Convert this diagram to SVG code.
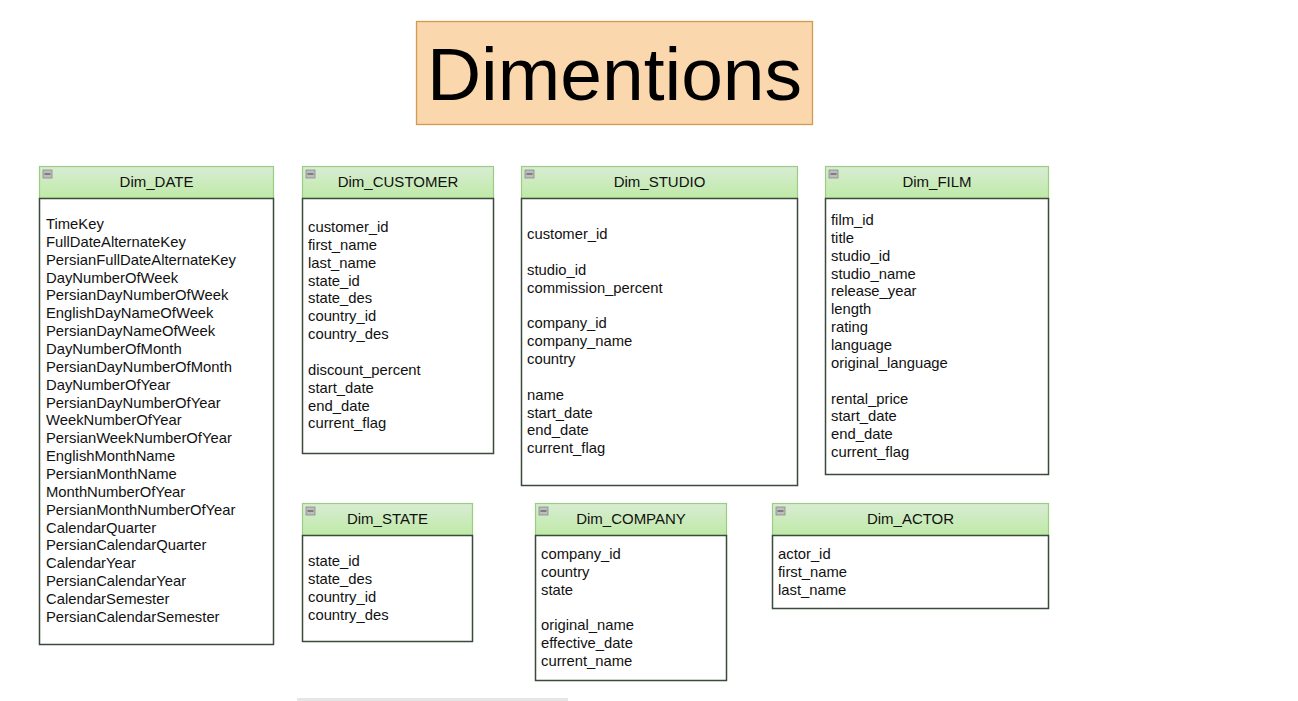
<svg xmlns="http://www.w3.org/2000/svg" width="1298" height="701" viewBox="0 0 1298 701">
<style>
.hdr{fill:url(#g);stroke:#9ccc84;stroke-width:1.2}
.body{fill:#fff;stroke:#3b4a3b;stroke-width:1.5}
.ht{font-family:"Liberation Sans",Arial,sans-serif;font-size:15px;fill:#111;text-anchor:middle}
.rt{font-family:"Liberation Sans",Arial,sans-serif;font-size:14.8px;fill:#111}
.ico{fill:#bdbdbd;stroke:#8a8a8a;stroke-width:0.8}
</style>
<defs>
<linearGradient id="g" x1="0" y1="0" x2="0" y2="1">
<stop offset="0" stop-color="#d8ecd4"/>
<stop offset="1" stop-color="#bfeaa6"/>
</linearGradient>
<g id="minus"><rect class="ico" x="0" y="0" width="9" height="8"/><line x1="1.5" y1="4" x2="7.5" y2="4" stroke="#555" stroke-width="1.2"/></g>
</defs>
<rect width="1298" height="701" fill="#fff"/>

<g id="title">
<rect x="416.5" y="21.5" width="396" height="103" fill="#fad7ac" stroke="#d39a4f" stroke-width="1.3"/>
<text x="614.5" y="100" font-family="Liberation Sans,Arial,sans-serif" font-size="75" text-anchor="middle" fill="#000">Dimentions</text>
</g>

<g id="connectors"></g>

<g id="dim_date">
<rect class="hdr" x="39.5" y="166.5" width="234" height="32"/>
<rect class="body" x="39.5" y="198.5" width="234" height="446"/>
<use href="#minus" x="43" y="170"/>
<text class="ht" x="156.5" y="187">Dim_DATE</text>
<text class="rt" x="46" y="229">
<tspan x="46">TimeKey</tspan>
<tspan x="46" dy="17.86">FullDateAlternateKey</tspan>
<tspan x="46" dy="17.86">PersianFullDateAlternateKey</tspan>
<tspan x="46" dy="17.86">DayNumberOfWeek</tspan>
<tspan x="46" dy="17.86">PersianDayNumberOfWeek</tspan>
<tspan x="46" dy="17.86">EnglishDayNameOfWeek</tspan>
<tspan x="46" dy="17.86">PersianDayNameOfWeek</tspan>
<tspan x="46" dy="17.86">DayNumberOfMonth</tspan>
<tspan x="46" dy="17.86">PersianDayNumberOfMonth</tspan>
<tspan x="46" dy="17.86">DayNumberOfYear</tspan>
<tspan x="46" dy="17.86">PersianDayNumberOfYear</tspan>
<tspan x="46" dy="17.86">WeekNumberOfYear</tspan>
<tspan x="46" dy="17.86">PersianWeekNumberOfYear</tspan>
<tspan x="46" dy="17.86">EnglishMonthName</tspan>
<tspan x="46" dy="17.86">PersianMonthName</tspan>
<tspan x="46" dy="17.86">MonthNumberOfYear</tspan>
<tspan x="46" dy="17.86">PersianMonthNumberOfYear</tspan>
<tspan x="46" dy="17.86">CalendarQuarter</tspan>
<tspan x="46" dy="17.86">PersianCalendarQuarter</tspan>
<tspan x="46" dy="17.86">CalendarYear</tspan>
<tspan x="46" dy="17.86">PersianCalendarYear</tspan>
<tspan x="46" dy="17.86">CalendarSemester</tspan>
<tspan x="46" dy="17.86">PersianCalendarSemester</tspan>
</text>
</g>

<g id="dim_customer">
<rect class="hdr" x="302.5" y="166.5" width="191" height="32"/>
<rect class="body" x="302.5" y="198.5" width="191" height="255"/>
<use href="#minus" x="306" y="170"/>
<text class="ht" x="398" y="187">Dim_CUSTOMER</text>
<text class="rt" x="308" y="232">
<tspan x="308">customer_id</tspan>
<tspan x="308" dy="17.86">first_name</tspan>
<tspan x="308" dy="17.86">last_name</tspan>
<tspan x="308" dy="17.86">state_id</tspan>
<tspan x="308" dy="17.86">state_des</tspan>
<tspan x="308" dy="17.86">country_id</tspan>
<tspan x="308" dy="17.86">country_des</tspan>
<tspan x="308" dy="35.72">discount_percent</tspan>
<tspan x="308" dy="17.86">start_date</tspan>
<tspan x="308" dy="17.86">end_date</tspan>
<tspan x="308" dy="17.86">current_flag</tspan>
</text>
</g>

<g id="dim_studio">
<rect class="hdr" x="521.5" y="166.5" width="276" height="32"/>
<rect class="body" x="521.5" y="198.5" width="276" height="287"/>
<use href="#minus" x="525" y="170"/>
<text class="ht" x="659.5" y="187">Dim_STUDIO</text>
<text class="rt" x="527" y="239">
<tspan x="527">customer_id</tspan>
<tspan x="527" dy="35.72">studio_id</tspan>
<tspan x="527" dy="17.86">commission_percent</tspan>
<tspan x="527" dy="35.72">company_id</tspan>
<tspan x="527" dy="17.86">company_name</tspan>
<tspan x="527" dy="17.86">country</tspan>
<tspan x="527" dy="35.72">name</tspan>
<tspan x="527" dy="17.86">start_date</tspan>
<tspan x="527" dy="17.86">end_date</tspan>
<tspan x="527" dy="17.86">current_flag</tspan>
</text>
</g>

<g id="dim_film">
<rect class="hdr" x="825.5" y="166.5" width="223" height="32"/>
<rect class="body" x="825.5" y="198.5" width="223" height="276"/>
<use href="#minus" x="829" y="170"/>
<text class="ht" x="937" y="187">Dim_FILM</text>
<text class="rt" x="831" y="225">
<tspan x="831">film_id</tspan>
<tspan x="831" dy="17.86">title</tspan>
<tspan x="831" dy="17.86">studio_id</tspan>
<tspan x="831" dy="17.86">studio_name</tspan>
<tspan x="831" dy="17.86">release_year</tspan>
<tspan x="831" dy="17.86">length</tspan>
<tspan x="831" dy="17.86">rating</tspan>
<tspan x="831" dy="17.86">language</tspan>
<tspan x="831" dy="17.86">original_language</tspan>
<tspan x="831" dy="35.72">rental_price</tspan>
<tspan x="831" dy="17.86">start_date</tspan>
<tspan x="831" dy="17.86">end_date</tspan>
<tspan x="831" dy="17.86">current_flag</tspan>
</text>
</g>

<g id="dim_state">
<rect class="hdr" x="302.5" y="503.5" width="170" height="32"/>
<rect class="body" x="302.5" y="535.5" width="170" height="106"/>
<use href="#minus" x="306" y="507"/>
<text class="ht" x="387.5" y="524">Dim_STATE</text>
<text class="rt" x="308" y="566">
<tspan x="308">state_id</tspan>
<tspan x="308" dy="17.86">state_des</tspan>
<tspan x="308" dy="17.86">country_id</tspan>
<tspan x="308" dy="17.86">country_des</tspan>
</text>
</g>

<g id="dim_company">
<rect class="hdr" x="535.5" y="503.5" width="191" height="32"/>
<rect class="body" x="535.5" y="535.5" width="191" height="145"/>
<use href="#minus" x="539" y="507"/>
<text class="ht" x="631" y="524">Dim_COMPANY</text>
<text class="rt" x="541" y="559">
<tspan x="541">company_id</tspan>
<tspan x="541" dy="17.86">country</tspan>
<tspan x="541" dy="17.86">state</tspan>
<tspan x="541" dy="35.72">original_name</tspan>
<tspan x="541" dy="17.86">effective_date</tspan>
<tspan x="541" dy="17.86">current_name</tspan>
</text>
</g>

<g id="dim_actor">
<rect class="hdr" x="772.5" y="503.5" width="276" height="32"/>
<rect class="body" x="772.5" y="535.5" width="276" height="73"/>
<use href="#minus" x="776" y="507"/>
<text class="ht" x="910.5" y="524">Dim_ACTOR</text>
<text class="rt" x="778" y="559">
<tspan x="778">actor_id</tspan>
<tspan x="778" dy="17.86">first_name</tspan>
<tspan x="778" dy="17.86">last_name</tspan>
</text>
</g>

<rect x="297" y="698" width="271" height="3" fill="#e6e6e6"/>
</svg>
